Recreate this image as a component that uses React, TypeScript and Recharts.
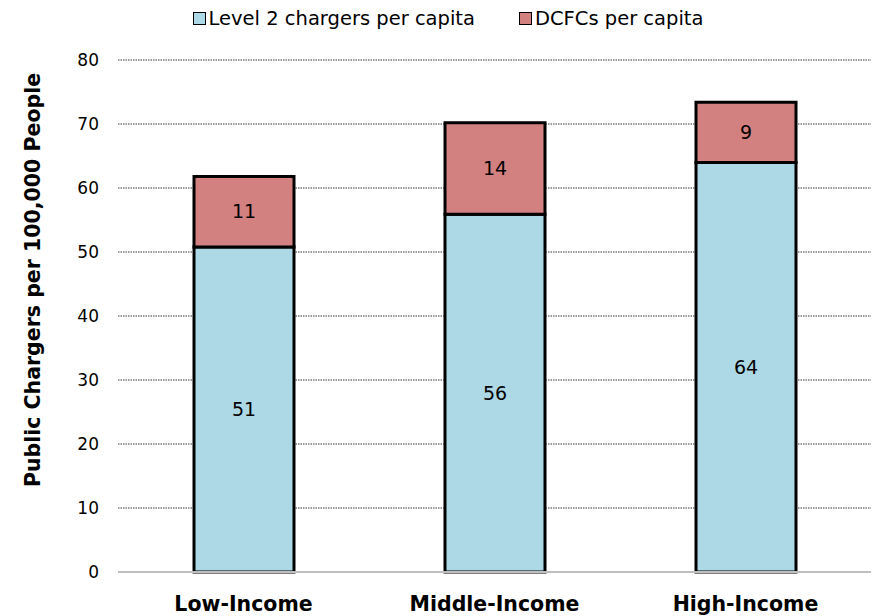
import { Bar, BarChart, CartesianGrid, LabelList, XAxis, YAxis } from 'recharts';

const incomeGroups = ['Low-Income', 'Middle-Income', 'High-Income'];
const level2PerCapita = [50.8, 55.9, 64.0];
const dcfcPerCapita = [11.0, 14.3, 9.4];
const yTicks = [0, 10, 20, 30, 40, 50, 60, 70, 80];

const FONT = '"DejaVu Sans", Verdana, sans-serif';
const L2_COLOR = '#ADD8E6';
const DCFC_COLOR = '#D38080';

const data = incomeGroups.map((name, i) => ({
  name,
  level2: level2PerCapita[i],
  dcfc: dcfcPerCapita[i],
}));

// legend sits above the plot, drawn outside the chart so it takes no plot space
function LegendBox() {
  const items = [
    { label: 'Level 2 chargers per capita', color: L2_COLOR },
    { label: 'DCFCs per capita', color: DCFC_COLOR },
  ];
  return (
    <div
      style={{
        position: 'absolute',
        top: 7,
        left: 0,
        width: 882,
        paddingLeft: 14,
        boxSizing: 'border-box',
        display: 'flex',
        justifyContent: 'center',
        gap: 44,
        fontFamily: FONT,
        fontSize: 19.5,
        color: '#000',
      }}
    >
      {items.map((it) => (
        <div key={it.label} style={{ display: 'flex', alignItems: 'center' }}>
          <span
            style={{
              display: 'inline-block',
              width: 11,
              height: 11,
              background: it.color,
              border: '1.5px solid #000',
              marginRight: 3,
            }}
          />
          <span>{it.label}</span>
        </div>
      ))}
    </div>
  );
}

const roundLabel = (v: unknown) => Math.round(Number(v)).toString();

export default function App() {
  return (
    <div style={{ position: 'absolute', left: 0, top: 0, width: 882, height: 616, background: '#fff' }}>
      <BarChart
        width={882}
        height={616}
        data={data}
        margin={{ top: 60, right: 11, bottom: 14, left: 0 }}
      >
        <CartesianGrid
          horizontal
          vertical={false}
          stroke="#000"
          strokeDasharray="1.5 1"
          strokeWidth={0.8}
        />
        <XAxis
          dataKey="name"
          height={30}
          axisLine={{ stroke: '#BFBFBF', strokeWidth: 2 }}
          tickLine={false}
          tickMargin={18}
          tick={{ fill: '#000', fontSize: 20.5, fontWeight: 'bold', fontFamily: FONT }}
        />
        <YAxis
          domain={[0, 80]}
          ticks={yTicks}
          interval={0}
          axisLine={false}
          tickLine={false}
          tickSize={0}
          tickMargin={19}
          width={118}
          tick={{ fill: '#000', fontSize: 17, fontFamily: FONT }}
          label={{
            value: 'Public Chargers per 100,000 People',
            angle: -90,
            position: 'insideLeft',
            dx: 28,
            dy: -36,
            style: { fill: '#000', fontSize: 20.5, fontWeight: 'bold', fontFamily: FONT, textAnchor: 'middle' },
          }}
        />
        <Bar
          dataKey="level2"
          stackId="a"
          fill={L2_COLOR}
          stroke="#000"
          strokeWidth={3}
          barSize={100}
          isAnimationActive={false}
        >
          <LabelList
            dataKey="level2"
            position="center"
            formatter={roundLabel}
            style={{ fill: '#000', fontSize: 19, fontFamily: FONT }}
          />
        </Bar>
        <Bar
          dataKey="dcfc"
          stackId="a"
          fill={DCFC_COLOR}
          stroke="#000"
          strokeWidth={3}
          barSize={100}
          isAnimationActive={false}
        >
          <LabelList
            dataKey="dcfc"
            position="center"
            formatter={roundLabel}
            style={{ fill: '#000', fontSize: 19, fontFamily: FONT }}
          />
        </Bar>
      </BarChart>
      <LegendBox />
    </div>
  );
}
